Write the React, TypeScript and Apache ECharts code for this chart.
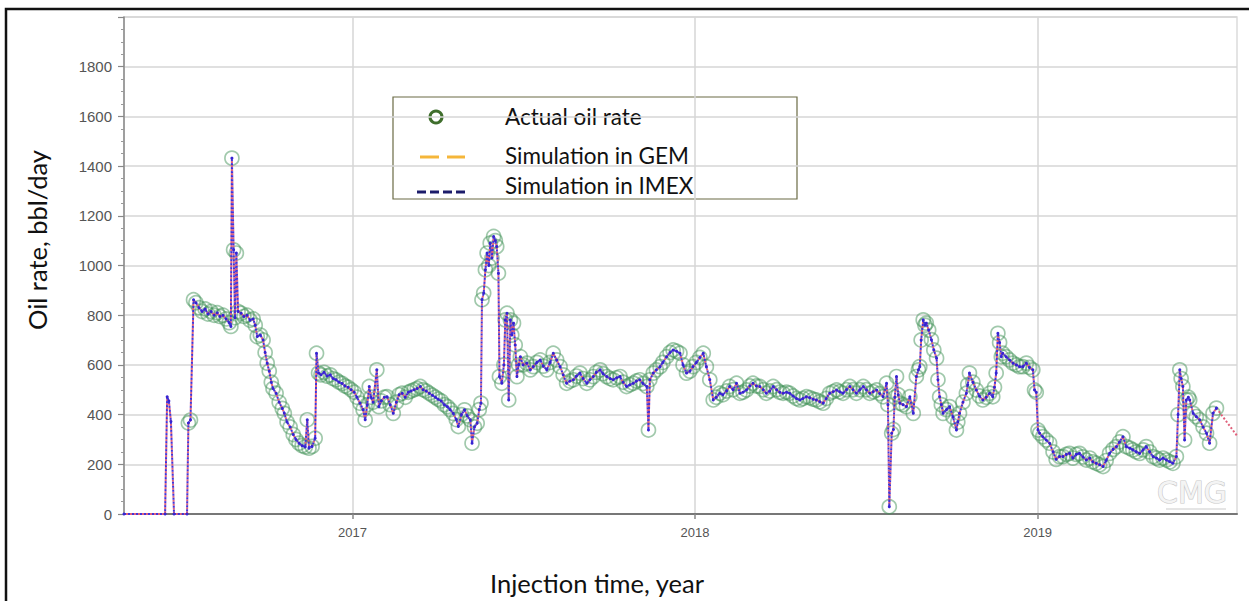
import React, { useEffect, useRef } from "react";
import * as echarts from "echarts";

// Simulated rate before the first field measurement (decimal years, bbl/day)
const leadYears = [2016.333, 2016.453, 2016.459, 2016.464, 2016.47, 2016.479, 2016.517];
const leadRates = [0, 0, 472, 455, 372, 0, 0];

// Measured oil rate (decimal years, bbl/day)
const actualYears = [
  2016.521, 2016.527, 2016.536, 2016.543, 2016.552, 2016.561, 2016.57, 2016.578, 2016.587, 2016.596,
  2016.605, 2016.613, 2016.622, 2016.631, 2016.64, 2016.645, 2016.648, 2016.653, 2016.657, 2016.661,
  2016.666, 2016.675, 2016.683, 2016.692, 2016.701, 2016.71, 2016.716, 2016.722, 2016.731, 2016.739,
  2016.745, 2016.751, 2016.757, 2016.763, 2016.768, 2016.777, 2016.786, 2016.795, 2016.801, 2016.809,
  2016.818, 2016.827, 2016.835, 2016.844, 2016.853, 2016.862, 2016.868, 2016.873, 2016.882, 2016.891,
  2016.895, 2016.901, 2016.908, 2016.917, 2016.926, 2016.935, 2016.943, 2016.952, 2016.961, 2016.97,
  2016.978, 2016.987, 2016.996, 2017.005, 2017.013, 2017.022, 2017.031, 2017.037, 2017.043, 2017.049,
  2017.054, 2017.06, 2017.071, 2017.077, 2017.084, 2017.093, 2017.101, 2017.11, 2017.119, 2017.128,
  2017.136, 2017.145, 2017.154, 2017.163, 2017.171, 2017.18, 2017.189, 2017.198, 2017.206, 2017.215,
  2017.224, 2017.233, 2017.242, 2017.25, 2017.259, 2017.268, 2017.277, 2017.285, 2017.294, 2017.303,
  2017.309, 2017.318, 2017.327, 2017.335, 2017.344, 2017.349, 2017.356, 2017.364, 2017.37, 2017.375,
  2017.378, 2017.383, 2017.388, 2017.393, 2017.398, 2017.402, 2017.407, 2017.412, 2017.417, 2017.421,
  2017.426, 2017.429, 2017.436, 2017.442, 2017.446, 2017.451, 2017.456, 2017.461, 2017.465, 2017.47,
  2017.475, 2017.48, 2017.485, 2017.49, 2017.498, 2017.509, 2017.519, 2017.528, 2017.538, 2017.548,
  2017.557, 2017.567, 2017.577, 2017.586, 2017.596, 2017.606, 2017.615, 2017.625, 2017.635, 2017.645,
  2017.654, 2017.664, 2017.673, 2017.684, 2017.693, 2017.703, 2017.712, 2017.723, 2017.731, 2017.742,
  2017.752, 2017.761, 2017.771, 2017.781, 2017.79, 2017.8, 2017.81, 2017.82, 2017.829, 2017.839,
  2017.848, 2017.859, 2017.864, 2017.868, 2017.878, 2017.887, 2017.898, 2017.906, 2017.917, 2017.927,
  2017.936, 2017.946, 2017.956, 2017.965, 2017.975, 2017.985, 2017.994, 2018.004, 2018.014, 2018.024,
  2018.033, 2018.043, 2018.053, 2018.062, 2018.072, 2018.081, 2018.092, 2018.101, 2018.111, 2018.121,
  2018.131, 2018.14, 2018.15, 2018.16, 2018.169, 2018.179, 2018.189, 2018.199, 2018.208, 2018.218,
  2018.228, 2018.238, 2018.247, 2018.257, 2018.267, 2018.276, 2018.286, 2018.296, 2018.306, 2018.315,
  2018.325, 2018.335, 2018.345, 2018.354, 2018.364, 2018.374, 2018.383, 2018.393, 2018.403, 2018.413,
  2018.422, 2018.432, 2018.442, 2018.452, 2018.461, 2018.471, 2018.481, 2018.491, 2018.5, 2018.51,
  2018.52, 2018.53, 2018.539, 2018.549, 2018.559, 2018.563, 2018.567, 2018.574, 2018.579, 2018.583,
  2018.588, 2018.593, 2018.598, 2018.607, 2018.617, 2018.627, 2018.637, 2018.646, 2018.652, 2018.656,
  2018.66, 2018.666, 2018.671, 2018.675, 2018.682, 2018.69, 2018.697, 2018.705, 2018.709, 2018.714,
  2018.719, 2018.724, 2018.734, 2018.743, 2018.753, 2018.763, 2018.767, 2018.772, 2018.782, 2018.792,
  2018.796, 2018.801, 2018.811, 2018.821, 2018.83, 2018.84, 2018.85, 2018.86, 2018.869, 2018.874,
  2018.879, 2018.884, 2018.889, 2018.894, 2018.898, 2018.908, 2018.918, 2018.928, 2018.938, 2018.947,
  2018.957, 2018.967, 2018.976, 2018.986, 2018.991, 2018.996, 2019.001, 2019.006, 2019.015, 2019.025,
  2019.035, 2019.045, 2019.054, 2019.064, 2019.074, 2019.084, 2019.093, 2019.103, 2019.113, 2019.122,
  2019.132, 2019.142, 2019.152, 2019.161, 2019.171, 2019.181, 2019.191, 2019.2, 2019.21, 2019.22,
  2019.23, 2019.239, 2019.249, 2019.259, 2019.269, 2019.278, 2019.288, 2019.298, 2019.308, 2019.317,
  2019.327, 2019.337, 2019.347, 2019.356, 2019.366, 2019.376, 2019.386, 2019.395, 2019.405, 2019.41,
  2019.415, 2019.419, 2019.424, 2019.429, 2019.434, 2019.44, 2019.444, 2019.454, 2019.463, 2019.473,
  2019.483, 2019.493, 2019.502, 2019.512, 2019.522,
];
const actualRates = [
  366, 378, 862, 850, 830, 815, 825, 805, 815, 800,
  810, 795, 800, 785, 770, 755, 1432, 1063, 790, 1050,
  815, 808, 795, 800, 780, 785, 760, 714, 720, 700,
  650, 607, 575, 530, 505, 486, 450, 425, 405, 370,
  350, 320, 300, 285, 275, 270, 379, 265, 272, 305,
  647, 567, 560, 570, 555, 560, 545, 540, 530, 525,
  515, 510, 500, 490, 470, 446, 420, 379, 440, 513,
  470, 450, 580, 432, 455, 470, 472, 440, 405, 450,
  480, 486, 470, 490, 495, 500, 505, 513, 500, 495,
  486, 478, 470, 462, 455, 440, 432, 420, 405, 380,
  352, 400, 419, 395, 379, 285, 350, 365, 420, 446,
  862, 889, 983, 1050, 1000, 1090, 1030, 1117, 1100, 1076,
  969, 553, 526, 600, 781, 808, 459, 781, 720, 768,
  680, 553, 600, 633, 600, 607, 580, 593, 610, 620,
  595, 580, 610, 647, 620, 593, 560, 526, 535, 540,
  555, 567, 545, 526, 540, 553, 570, 580, 565, 553,
  545, 540, 548, 553, 530, 513, 520, 526, 535, 540,
  525, 513, 338, 540, 567, 580, 593, 610, 633, 650,
  660, 655, 647, 600, 567, 575, 593, 610, 630, 647,
  593, 540, 459, 470, 486, 480, 495, 513, 500, 526,
  486, 490, 499, 515, 526, 515, 513, 500, 486, 495,
  513, 500, 490, 486, 490, 486, 475, 465, 459, 465,
  472, 468, 462, 459, 452, 446, 465, 486, 492, 499,
  492, 486, 500, 513, 500, 486, 500, 513, 500, 486,
  492, 499, 485, 472, 526, 440, 29, 325, 340, 470,
  553, 480, 446, 440, 432, 472, 405, 553, 580, 593,
  700, 781, 760, 768, 740, 701, 660, 627, 540, 472,
  440, 405, 420, 432, 390, 338, 370, 405, 450, 486,
  520, 567, 530, 499, 475, 459, 470, 486, 472, 510,
  567, 727, 690, 633, 647, 633, 620, 607, 600, 593,
  593, 607, 590, 580, 499, 490, 338, 325, 311, 298,
  285, 250, 220, 231, 231, 240, 244, 225, 240, 244,
  230, 217, 225, 210, 204, 198, 191, 215, 244, 260,
  271, 290, 311, 271, 265, 258, 250, 244, 258, 271,
  250, 231, 225, 217, 225, 217, 210, 204, 231, 400,
  580, 545, 513, 298, 459, 470, 459, 405, 392, 379,
  350, 325, 285, 405, 426,
];

// GEM forecast beyond the last measurement
const tailYears = [2019.582];
const tailRates = [315];

// Axis ticks
const yearTicks = [2017, 2018, 2019];

export default function App() {
  const ref = useRef<HTMLDivElement>(null);

  useEffect(() => {
    if (!ref.current) return;
    const chart = echarts.init(ref.current, null, { renderer: "svg" });

    const lead = leadYears.map((t, i) => [t, leadRates[i]]);
    const actual = actualYears.map((t, i) => [t, actualRates[i]]);
    const tail = tailYears.map((t, i) => [t, tailRates[i]]);
    const imex = [...lead, ...actual];
    const gem = [...lead, ...actual, ...tail];

    const titleFont = '25.5px Lato, "Open Sans", sans-serif';
    const legendFont = '22.5px Lato, "Open Sans", sans-serif';

    chart.setOption({
      animation: false,
      backgroundColor: "#ffffff",
      grid: {
        left: 124,
        right: 12,
        top: 17,
        bottom: 87,
        show: true,
        borderColor: "#dcdcdc",
        borderWidth: 1.5,
      },
      xAxis: {
        type: "value",
        min: 2016.333,
        max: 2019.582,
        axisLine: { show: true, onZero: false, lineStyle: { color: "#777777", width: 2 } },
        axisTick: {
          show: true,
          customValues: yearTicks,
          length: 5,
          lineStyle: { color: "#888888", width: 1.5 },
        },
        axisLabel: {
          customValues: yearTicks,
          formatter: (v: number) => String(Math.round(v)),
          color: "#555555",
          fontFamily: '"Liberation Sans", Arial, sans-serif',
          fontSize: 13,
          margin: 12,
        },
        splitLine: { show: true, lineStyle: { color: "#d6d6d6", width: 1.5 } },
      },
      yAxis: {
        type: "value",
        min: 0,
        max: 2000,
        interval: 200,
        axisLine: { show: true, lineStyle: { color: "#888888", width: 1.5 } },
        axisTick: { show: true, length: 6, lineStyle: { color: "#888888", width: 1.2 } },
        minorTick: { show: true, splitNumber: 4, length: 3, lineStyle: { color: "#999999", width: 1 } },
        axisLabel: {
          showMaxLabel: false,
          formatter: (v: number) => String(v),
          color: "#555555",
          fontFamily: '"Liberation Sans", Arial, sans-serif',
          fontSize: 15,
          margin: 12,
        },
        splitLine: { show: true, lineStyle: { color: "#d6d6d6", width: 1.5 } },
      },
      series: [
        {
          name: "Actual oil rate",
          type: "scatter",
          data: actual,
          symbol: "circle",
          symbolSize: 14,
          z: 2,
          itemStyle: {
            color: "rgba(255,255,255,0)",
            borderColor: "rgba(65,145,88,0.62)",
            borderWidth: 1.7,
          },
        },
        {
          name: "Simulation in GEM",
          type: "line",
          data: gem,
          showSymbol: false,
          z: 3,
          lineStyle: { color: "#e0607a", width: 2, type: [2, 2], dashOffset: 2 },
        },
        {
          name: "Simulation in IMEX",
          type: "line",
          data: imex,
          symbol: "circle",
          symbolSize: 3,
          showAllSymbol: true,
          z: 4,
          itemStyle: { color: "#3524d2", borderWidth: 0 },
          lineStyle: { color: "#4333d8", width: 2, type: [2, 2] },
        },
      ],
      graphic: [
        // frame around the figure
        {
          type: "polyline",
          z: 200,
          shape: { points: [[6, 601], [6, 9], [1249, 9]] },
          style: { stroke: "#111111", lineWidth: 2.5, fill: "none" },
        },
        {
          type: "text",
          z: 200,
          x: 37,
          y: 240,
          rotation: Math.PI / 2,
          style: {
            text: "Oil rate, bbl/day",
            font: titleFont,
            fill: "#111111",
            textAlign: "center",
            textVerticalAlign: "middle",
          },
        },
        {
          type: "text",
          z: 200,
          x: 597,
          y: 583,
          style: {
            text: "Injection time, year",
            font: titleFont,
            fill: "#111111",
            textAlign: "center",
            textVerticalAlign: "middle",
          },
        },
        // watermark
        {
          type: "text",
          z: 1,
          x: 1192,
          y: 492,
          style: {
            text: "CMG",
            font: '30px "DejaVu Sans", sans-serif',
            fill: "#f4f4f4",
            stroke: "#c8c8c8",
            lineWidth: 1.2,
            textAlign: "center",
            textVerticalAlign: "middle",
          },
        },
        {
          type: "line",
          z: 1,
          shape: { x1: 1166, y1: 509, x2: 1226, y2: 509 },
          style: { stroke: "#cccccc", lineWidth: 1.2 },
        },
        // legend
        {
          type: "group",
          z: 150,
          children: [
            {
              type: "rect",
              shape: { x: 393, y: 97, width: 404, height: 102 },
              style: { fill: "#ffffff", stroke: "#6b6b45", lineWidth: 1.2 },
            },
            {
              type: "circle",
              shape: { cx: 436, cy: 117, r: 6 },
              style: { fill: "none", stroke: "#3f6e2c", lineWidth: 3 },
            },
            {
              type: "line",
              shape: { x1: 420, y1: 157, x2: 439, y2: 157 },
              style: { stroke: "#f5b63a", lineWidth: 3 },
            },
            {
              type: "line",
              shape: { x1: 447, y1: 157, x2: 465, y2: 157 },
              style: { stroke: "#f5b63a", lineWidth: 3 },
            },
            {
              type: "line",
              shape: { x1: 417, y1: 192, x2: 426, y2: 192 },
              style: { stroke: "#1c1c6a", lineWidth: 3 },
            },
            {
              type: "line",
              shape: { x1: 430, y1: 192, x2: 439, y2: 192 },
              style: { stroke: "#1c1c6a", lineWidth: 3 },
            },
            {
              type: "line",
              shape: { x1: 443, y1: 192, x2: 452, y2: 192 },
              style: { stroke: "#1c1c6a", lineWidth: 3 },
            },
            {
              type: "line",
              shape: { x1: 456, y1: 192, x2: 465, y2: 192 },
              style: { stroke: "#1c1c6a", lineWidth: 3 },
            },
            {
              type: "text",
              x: 505,
              y: 116,
              style: { text: "Actual oil rate", font: legendFont, fill: "#111111", textVerticalAlign: "middle" },
            },
            {
              type: "text",
              x: 505,
              y: 155,
              style: { text: "Simulation in GEM", font: legendFont, fill: "#111111", textVerticalAlign: "middle" },
            },
            {
              type: "text",
              x: 505,
              y: 185,
              style: { text: "Simulation in IMEX", font: legendFont, fill: "#111111", textVerticalAlign: "middle" },
            },
          ],
        },
      ],
    });

    return () => chart.dispose();
  }, []);

  return (
    <div
      ref={ref}
      style={{ position: "absolute", left: 0, top: 0, width: 1249, height: 601, background: "#ffffff" }}
    />
  );
}
